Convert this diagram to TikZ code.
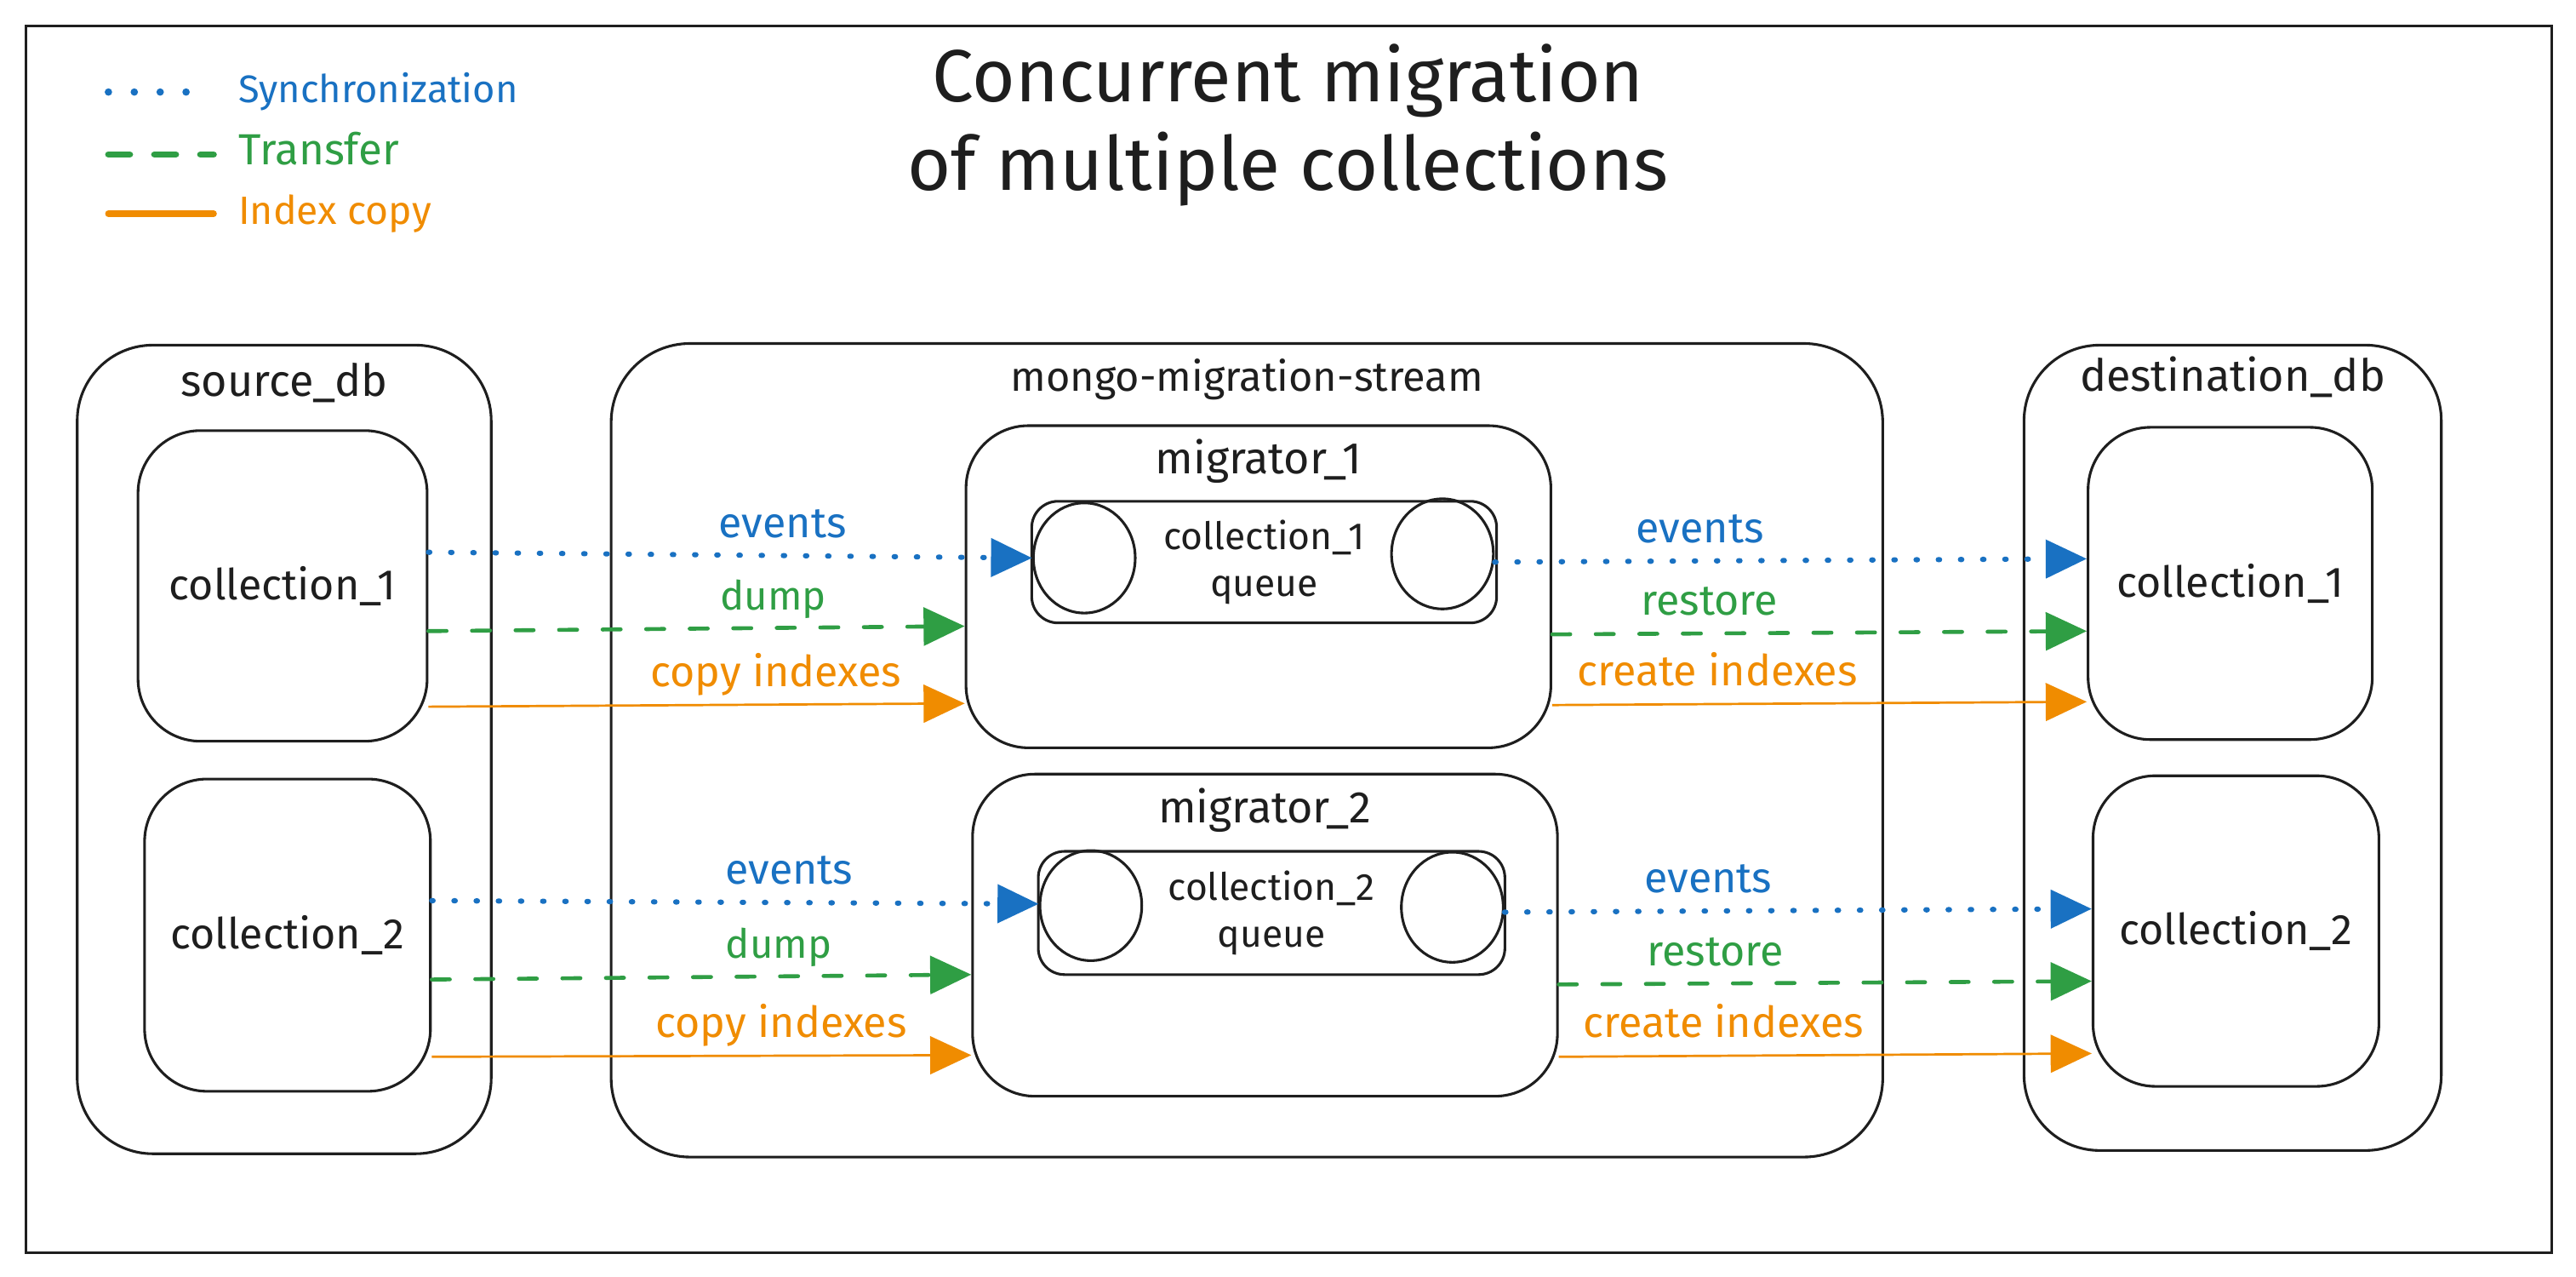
\documentclass[tikz,border=0pt]{standalone}
\usepackage{fontspec}
\setmainfont{Fira Sans}
\usetikzlibrary{arrows.meta,shapes.geometric}
\definecolor{ink}{HTML}{1E1E1E}
\definecolor{eblue}{HTML}{1971C2}
\definecolor{egreen}{HTML}{2F9E44}
\definecolor{eorange}{HTML}{F08C00}
\newcommand\fsz[2]{\fontsize{#1}{#2}\selectfont}
\begin{document}
\begin{tikzpicture}[x=1pt,y=-1pt,
  outline/.style={draw=ink, line width=1.6pt, rounded corners=#1, inner sep=0pt, text=ink},
  outline/.default=38pt,
  ringnode/.style={draw=ink, line width=1.6pt, ellipse, minimum width=62pt, minimum height=67pt, inner sep=0pt},
  boxtext/.style={font=\fsz{26}{30}},
  headtext/.style={text=ink, font=\fsz{26}{30}, inner sep=0pt, anchor=base},
  qtext/.style={font=\fsz{23}{28.5}, align=center},
  clbl/.style={font=\fsz{26}{30}, inner sep=0pt, anchor=base, yshift=11pt},
  tip/.style={-{Triangle[length=25pt,width=23pt]}},
  syncl/.style={draw=eblue, line width=3.2pt, line cap=round, dash pattern=on 0.8pt off 12.7pt, tip},
  transl/.style={draw=egreen, line width=2.4pt, line cap=round, dash pattern=on 11pt off 15.5pt, tip},
  idxl/.style={draw=eorange, line width=1.4pt, tip},
  legtext/.style={inner sep=0pt, anchor=base west}
]
\fill[white] (0,0) rectangle (1568,777);
\useasboundingbox (0,0) rectangle (1568,777);

% outer frame
\node[draw=ink, line width=1.6pt, sharp corners, minimum width=1537pt, minimum height=746pt, inner sep=0pt] (frame) at (784.5,389) {};

% title
\node[text=ink, font=\fsz{45}{54}, inner sep=0pt, anchor=base] (title1) at (784,62) {Concurrent migration};
\node[text=ink, font=\fsz{45.5}{54}, inner sep=0pt, anchor=base] (title2) at (784,116) {of multiple collections};

% legend
\coordinate (ls1) at (66,56);  \coordinate (le1) at (129,56);
\coordinate (ls2) at (66,94);  \coordinate (le2) at (130,94);
\coordinate (ls3) at (66,130); \coordinate (le3) at (130,130);
\draw[eblue, line width=4.5pt, line cap=round, dash pattern=on 0pt off 15.75pt] (ls1) -- (le1);
\draw[egreen, line width=4pt, line cap=round, dash pattern=on 13pt off 15pt] (ls2) -- (le2);
\draw[eorange, line width=4pt, line cap=round] (ls3) -- (le3);
\node[legtext, font=\fsz{23.4}{28}, text=eblue] (leg1) at (145,62.5) {Synchronization};
\node[legtext, font=\fsz{26.5}{28}, text=egreen] (leg2) at (145,100) {Transfer};
\node[legtext, font=\fsz{24}{28}, text=eorange] (leg3) at (145,136.5) {Index copy};

% source database
\node[outline=46pt, minimum width=252pt, minimum height=492pt] (srcdb) at (173,456) {};
\node[headtext, font=\fsz{27}{30}] (srcdbt) at ([yshift=-32pt]srcdb.north) {source\_db};
\node[outline, boxtext, minimum width=176pt, minimum height=189pt] (sc1) at (172,356.5) {collection\_1};
\node[outline, boxtext, minimum width=174pt, minimum height=190pt] (sc2) at (175,569) {collection\_2};

% mongo-migration-stream
\node[outline=48pt, minimum width=774pt, minimum height=495pt] (mms) at (759,456.5) {};
\node[headtext, font=\fsz{25.2}{30}] (mmst) at ([yshift=-30pt]mms.north) {mongo-migration-stream};

\node[outline, minimum width=356pt, minimum height=196pt] (mig1) at (766,357) {};
\node[headtext, font=\fsz{27}{30}] (mig1t) at ([yshift=-30pt]mig1.north) {migrator\_1};
\node[outline=16pt, qtext, minimum width=283pt, minimum height=74pt] (q1) at (769.5,342) {collection\_1\\queue};
\node[ringnode] (q1l) at (660,339.5) {};
\node[ringnode] (q1r) at (878,337) {};

\node[outline, minimum width=356pt, minimum height=196pt] (mig2) at (770,569) {};
\node[headtext, font=\fsz{27}{30}] (mig2t) at ([yshift=-30.5pt]mig2.north) {migrator\_2};
\node[outline=16pt, qtext, minimum width=284pt, minimum height=75pt] (q2) at (774,555.5) {collection\_2\\queue};
\node[ringnode] (q2l) at (664,551) {};
\node[ringnode] (q2r) at (884,552) {};

% destination database
\node[outline=46pt, minimum width=254pt, minimum height=490pt] (dstdb) at (1359,455) {};
\node[headtext, font=\fsz{27}{30}] (dstdbt) at ([yshift=-29pt]dstdb.north) {destination\_db};
\node[outline, boxtext, minimum width=173pt, minimum height=190pt] (dc1) at (1357.5,355) {collection\_1};
\node[outline, boxtext, minimum width=174pt, minimum height=189pt] (dc2) at (1361,566.5) {collection\_2};

% row 1 connectors
\draw[syncl] ([yshift=20.5pt]sc1.east) -- (q1l.west)
  node[clbl, text=eblue, pos=0.587] (ev1) {events};
\draw[transl] ([yshift=-27.5pt]sc1.east) -- ([yshift=-24pt]mig1.west)
  node[clbl, font=\fsz{24.5}{30}, text=egreen, pos=0.643] (du1) {dump};
\draw[idxl] ([yshift=-73.5pt]sc1.east) -- ([yshift=-71pt]mig1.west)
  node[clbl, text=eorange, pos=0.648] (ci1) {copy indexes};
\draw[syncl] ([yshift=-5pt]q1r.east) -- ([yshift=15pt]dc1.west)
  node[clbl, text=eblue, pos=0.347] (ev1r) {events};
\draw[transl] ([yshift=-29pt]mig1.east) -- ([yshift=-29pt]dc1.west)
  node[clbl, text=egreen, pos=0.294] (re1) {restore};
\draw[idxl] ([yshift=-72pt]mig1.east) -- ([yshift=-72pt]dc1.west)
  node[clbl, text=eorange, pos=0.309] (cr1) {create indexes};

% row 2 connectors
\draw[syncl] ([yshift=21pt]sc2.east) -- ([yshift=1pt]q2l.west)
  node[clbl, text=eblue, pos=0.589] (ev2) {events};
\draw[transl] ([yshift=-27pt]sc2.east) -- ([yshift=-24pt]mig2.west)
  node[clbl, font=\fsz{24.5}{30}, text=egreen, pos=0.643] (du2) {dump};
\draw[idxl] ([yshift=-74pt]sc2.east) -- ([yshift=-73pt]mig2.west)
  node[clbl, text=eorange, pos=0.648] (ci2) {copy indexes};
\draw[syncl] ([yshift=-3pt]q2r.east) -- ([yshift=13.5pt]dc2.west)
  node[clbl, text=eblue, pos=0.347] (ev2r) {events};
\draw[transl] ([yshift=-30pt]mig2.east) -- ([yshift=-30.5pt]dc2.west)
  node[clbl, text=egreen, pos=0.294] (re2) {restore};
\draw[idxl] ([yshift=-74pt]mig2.east) -- ([yshift=-74.5pt]dc2.west)
  node[clbl, text=eorange, pos=0.309] (cr2) {create indexes};
\end{tikzpicture}
\end{document}
